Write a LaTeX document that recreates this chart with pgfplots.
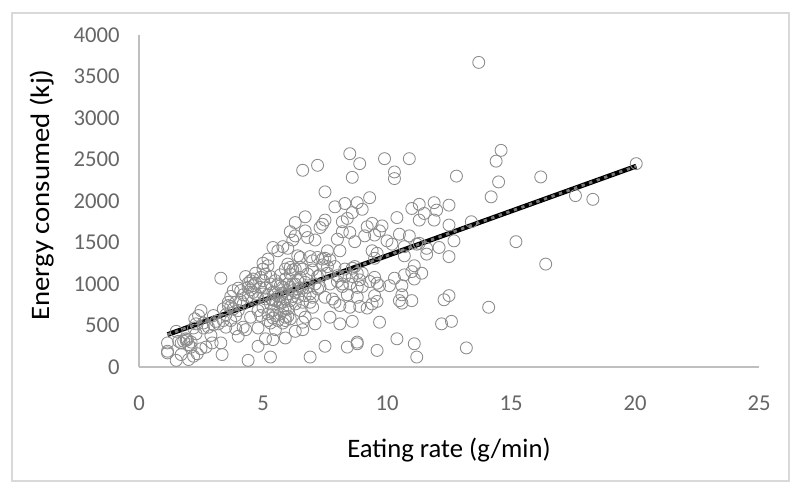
\documentclass[border=0pt]{standalone}
\usepackage{fontspec}
\setmainfont{Carlito}
\usepackage{pgfplots}
\pgfplotsset{compat=1.18}
\definecolor{tickgray}{HTML}{666666}
\definecolor{axisgray}{HTML}{BFBFBF}
\definecolor{framegray}{HTML}{D9D9D9}
\definecolor{markgray}{HTML}{8C8C8C}
\definecolor{dotgray}{HTML}{7A7A7A}
\begin{document}
\begin{tikzpicture}
\begin{axis}[
    at={(0,0)}, anchor=origin,
    scale only axis,
    width=465pt, height=249pt,
    xmin=0, xmax=25, ymin=0, ymax=4000,
    xtick={0,5,...,25},
    ytick={0,500,...,4000},
    axis x line=bottom, axis y line=left,
    axis line style={axisgray, line width=0.8pt, -},
    major tick length=0pt,
    clip=false,
    scaled ticks=false,
    /pgf/number format/assume math mode=true,
    /pgf/number format/1000 sep={},
    tick label style={tickgray, font=\fontsize{17}{18}\selectfont},
    xticklabel style={yshift=-18pt},
    yticklabel style={xshift=-11pt},
    xlabel={\fontsize{20}{22}\selectfont Eating rate (g/min)},
    ylabel={\scalebox{1.08}[1]{\fontsize{20}{22}\selectfont Energy consumed (kj)}},
    xlabel style={at={(axis description cs:0.5,0)}, anchor=center, yshift=-62pt},
    ylabel style={at={(axis description cs:0,0.518)}, anchor=center, rotate=0, yshift=73pt},
]
\addplot[only marks, mark=o, mark size=4.5pt, mark options={markgray, line width=0.65pt}] coordinates {
(13.7,3670)(14.6,2610)(8.5,2570)(7.2,2430)(6.6,2370)(8.9,2450)(9.9,2510)(10.9,2510)(14.4,2480)(20.05,2450)
(10.3,2350)(10.3,2270)(8.6,2285)(12.8,2300)(16.2,2290)(14.5,2230)(7.5,2110)(14.2,2050)(17.6,2065)(18.3,2020)
(9.3,2040)(8.3,1970)(7.9,1930)(8.8,1980)(9.0,1900)(8.6,1860)(11.0,1910)(11.3,1960)(11.9,1980)(12.5,1950)
(12.0,1890)(11.5,1850)(11.3,1770)(11.9,1770)(12.5,1710)(13.4,1750)(10.4,1800)(12.1,1440)(12.7,1520)(15.2,1510)
(16.4,1240)(12.5,1330)(11.6,1360)(11.6,1430)(11.2,1480)(10.7,1340)(11.4,1130)(11.1,1220)(11.0,1150)(11.1,1060)
(10.7,1110)(10.3,1070)(10.6,980)(10.1,980)(9.7,980)(10.6,870)(10.5,800)(10.6,770)(11.0,800)(12.5,860)
(12.3,810)(14.1,720)(12.2,520)(12.6,550)(13.2,230)(11.1,280)(11.2,120)(10.4,340)(9.6,200)(9.7,540)
(8.8,300)(8.8,280)(8.4,240)(8.6,550)(8.1,520)(7.5,250)(7.7,600)(7.1,520)(6.9,120)(6.6,450)
(6.3,430)(5.9,350)(5.3,120)(5.4,330)(5.1,340)(4.8,250)(4.4,80)
(1.15,290)(1.15,190)(1.15,170)(1.5,430)(1.5,80)(1.7,150)(1.6,310)(1.8,310)(1.9,320)(2.0,90)
(1.95,330)(2.1,300)(2.1,240)(2.2,130)(2.25,580)(2.3,520)(2.35,160)(2.3,400)(2.4,620)(2.5,680)
(2.5,220)(2.6,470)(2.7,240)(2.9,380)(2.95,290)(3.0,620)(3.1,550)(3.2,520)(3.3,1070)(3.3,290)
(3.35,150)(3.4,700)(3.5,480)(3.6,740)(3.6,780)(3.7,850)(3.8,920)(3.8,700)(3.9,460)(3.9,620)
(4.0,370)(4.0,950)(4.1,800)(4.2,870)(4.2,480)(4.3,450)(4.3,1090)(4.4,960)(4.5,1040)(4.5,600)
(4.6,1060)(4.6,900)(4.7,880)(4.7,1130)(4.8,680)(4.8,470)(4.9,620)(4.9,960)(5.0,1180)(5.0,1040)
(5.0,1250)(5.1,820)(5.1,1120)(5.2,1300)(5.2,1220)(5.2,560)(5.3,1000)(5.3,760)(5.3,530)(5.4,1440)
(5.4,900)(5.4,680)(5.5,1040)(5.5,800)(5.5,620)(5.5,450)(5.6,1000)(5.6,720)(5.6,1400)(5.7,1110)
(5.7,860)(5.7,640)(5.8,1450)(5.8,960)(5.8,780)(5.8,530)(5.9,1180)(5.9,1060)(5.9,600)(5.9,560)
(6.0,1430)(6.0,1240)(6.0,880)(6.0,700)(6.1,1630)(6.1,1120)(6.1,800)(6.1,580)(6.2,1530)(6.2,1000)
(6.2,920)(6.3,1740)(6.3,1580)(6.3,1180)(6.3,760)(6.4,1340)(6.4,1040)(6.4,840)(6.5,1320)(6.5,1080)
(6.5,680)(6.6,1180)(6.6,950)(6.6,540)(6.7,1810)(6.7,1640)(6.7,1020)(6.7,600)(6.8,1560)(6.8,1120)
(6.9,1330)(6.9,880)(6.9,780)(7.0,1170)(7.0,720)(7.1,1530)(7.1,1000)(7.2,1320)(7.2,940)(7.3,1680)
(7.3,1110)(7.4,1720)(7.4,1300)(7.4,1230)(7.5,1770)(7.5,1310)(7.5,840)(7.6,1400)(7.6,1130)(7.7,1290)
(7.7,1000)(7.8,820)(7.9,1210)(7.9,780)(8.0,1540)(8.0,1030)(8.1,740)(8.2,1630)(8.2,1750)(8.2,1000)
(8.2,970)(8.3,1180)(8.4,1790)(8.4,870)(8.5,1620)(8.5,1000)(8.5,720)(8.6,1190)(8.7,1510)(8.7,1210)
(8.8,1130)(8.8,960)(8.8,840)(8.9,1050)(8.9,730)(9.0,1130)(9.1,1580)(9.2,1690)(9.2,710)(9.3,1030)
(9.4,1730)(9.4,1400)(9.4,760)(9.5,1590)(9.5,1310)(9.5,1080)(9.5,860)(9.6,1370)(9.6,1010)(9.7,1640)
(9.8,1700)(10.0,1520)(10.2,1480)(10.5,1600)(10.7,1450)(10.9,1580)(11.3,1490)(9.6,790)(9.0,970)(8.1,1400)
(3.4,560)(3.5,630)(3.7,560)(3.7,730)(3.9,780)(4.0,680)(4.1,920)(4.2,760)(4.4,850)(4.4,1010)
(4.5,930)(4.6,980)(4.7,1010)(4.8,830)(4.9,1080)(5.0,880)(5.0,720)(5.1,950)(5.2,870)(5.2,640)
(5.3,1090)(5.4,810)(5.4,590)(5.5,900)(5.6,850)(5.6,560)(5.7,770)(5.7,980)(5.8,680)(5.8,890)
(5.9,820)(5.9,710)(6.0,1000)(6.0,610)(6.1,960)(6.1,1200)(6.2,850)(6.2,1170)(6.3,1000)(6.3,900)
(6.4,940)(6.5,1200)(6.6,780)(6.7,860)(6.8,960)(7.0,1280)(7.0,840)(7.2,1090)(7.3,960)(7.6,1210)
(8.0,1100)(8.3,1090)(8.6,1090)(2.6,530)(2.8,480)(2.2,470)(1.9,340)(2.0,270)(1.7,290)(3.0,510)
};
\addplot[black, line width=3.6pt] coordinates {(1.15,390)(20.05,2420)};
\addplot[dotgray, line width=2pt, dash pattern=on 2.5pt off 3.5pt] coordinates {(1.15,390)(20.05,2420)};
\end{axis}
\draw[framegray, line width=1.4pt] (-95.25pt,-85.5pt) rectangle ++(582.75pt,351pt);
\path[use as bounding box] (-104.25pt,-95.25pt) rectangle (495.75pt,275.25pt);
\end{tikzpicture}
\end{document}
